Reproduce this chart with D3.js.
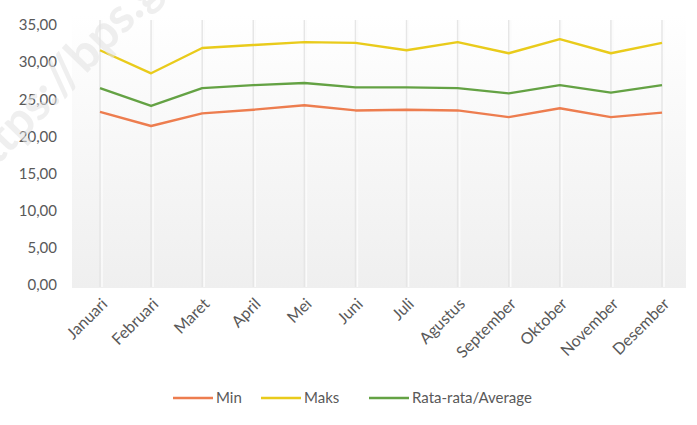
<!DOCTYPE html>
<html>
<head>
<meta charset="utf-8">
<script src="https://cdn.jsdelivr.net/npm/d3@7/dist/d3.min.js"></script>
<style>
  html, body { margin: 0; padding: 0; background: #ffffff; }
  svg { display: block; }
  text { font-family: Lato, "Open Sans", sans-serif; fill: #595959; }
</style>
</head>
<body>
<svg id="chart" width="697" height="425"></svg>
<script>
const months = ["Januari","Februari","Maret","April","Mei","Juni","Juli","Agustus","September","Oktober","November","Desember"];
const minVals = [23.3, 21.4, 23.1, 23.6, 24.2, 23.5, 23.6, 23.5, 22.6, 23.8, 22.6, 23.2];
const maksVals = [31.6, 28.5, 31.9, 32.3, 32.7, 32.6, 31.6, 32.7, 31.2, 33.1, 31.2, 32.6];
const avgVals = [26.5, 24.1, 26.5, 26.9, 27.2, 26.6, 26.6, 26.5, 25.8, 26.9, 25.9, 26.9];
const yTicks = [0, 5, 10, 15, 20, 25, 30, 35];
const seriesNames = ["Min", "Maks", "Rata-rata/Average"];
const seriesColors = ["#ED7D4F", "#E9CB1B", "#64A244"];

const svg = d3.select("#chart");
const x = d3.scalePoint().domain(months).range([100, 662]);
const y = d3.scaleLinear().domain([0, 35]).range([285, 25]);

// background gradient of plot area
const defs = svg.append("defs");
const grad = defs.append("linearGradient").attr("id", "bg").attr("x1", 0).attr("y1", 0).attr("x2", 0).attr("y2", 1);
grad.append("stop").attr("offset", "0%").attr("stop-color", "#ffffff");
grad.append("stop").attr("offset", "100%").attr("stop-color", "#efefef");
svg.append("rect").attr("x", 72).attr("y", 15).attr("width", 614).attr("height", 273).attr("fill", "url(#bg)");

// vertical gridlines
const grid = svg.append("g");
grid.selectAll("line.g1").data(months).join("line")
  .attr("x1", d => x(d)).attr("x2", d => x(d))
  .attr("y1", y(35) - 5).attr("y2", y(0) + 2)
  .attr("stroke", "#e6e6e6").attr("stroke-width", 1.5);
grid.selectAll("line.g2").data(months).join("line")
  .attr("x1", d => x(d) + 2).attr("x2", d => x(d) + 2)
  .attr("y1", y(35) - 5).attr("y2", y(0) + 2)
  .attr("stroke", "#fbfbfb").attr("stroke-width", 1.5);

// y axis labels
const yAxis = d3.axisLeft(y).tickValues(yTicks).tickSize(0).tickPadding(0)
  .tickFormat(d => d3.format(".2f")(d).replace(".", ","));
svg.append("g").attr("transform", "translate(57,0)").call(yAxis)
  .call(g => g.select(".domain").remove())
  .selectAll("text").style("font-size", "15px").attr("fill", "#595959");

// x axis labels
const xAxis = d3.axisBottom(x).tickSize(0).tickPadding(0);
const xg = svg.append("g").attr("transform", "translate(0,297)").call(xAxis);
xg.select(".domain").remove();
xg.selectAll("text")
  .style("font-size", "16px").attr("fill", "#595959")
  .attr("text-anchor", "end")
  .attr("dy", "0.7em")
  .attr("transform", "translate(0,0) rotate(-45)");

// lines
const seriesData = [minVals, maksVals, avgVals];
const line = d3.line().x((d, i) => x(months[i])).y(d => y(d));
svg.append("g").selectAll("path").data(seriesData).join("path")
  .attr("d", line)
  .attr("fill", "none")
  .attr("stroke", (d, i) => seriesColors[i])
  .attr("stroke-width", 2.4)
  .attr("stroke-linejoin", "round");

// legend
const legendX = [173, 261, 369];
const lg = svg.append("g");
seriesNames.forEach((name, i) => {
  lg.append("line").attr("x1", legendX[i]).attr("x2", legendX[i] + 40)
    .attr("y1", 398).attr("y2", 398)
    .attr("stroke", seriesColors[i]).attr("stroke-width", 2.4);
  lg.append("text").attr("x", legendX[i] + 43).attr("y", 398).attr("dy", "0.35em")
    .style("font-size", "15px").text(name);
});

// watermark
svg.append("text")
  .attr("transform", "translate(-22,186) rotate(-46)")
  .style("font-size", "48px").style("font-weight", "bold")
  .style("fill", "#e2e2e2").style("opacity", 0.55)
  .text("https://bps.go.id");
</script>
</body>
</html>
